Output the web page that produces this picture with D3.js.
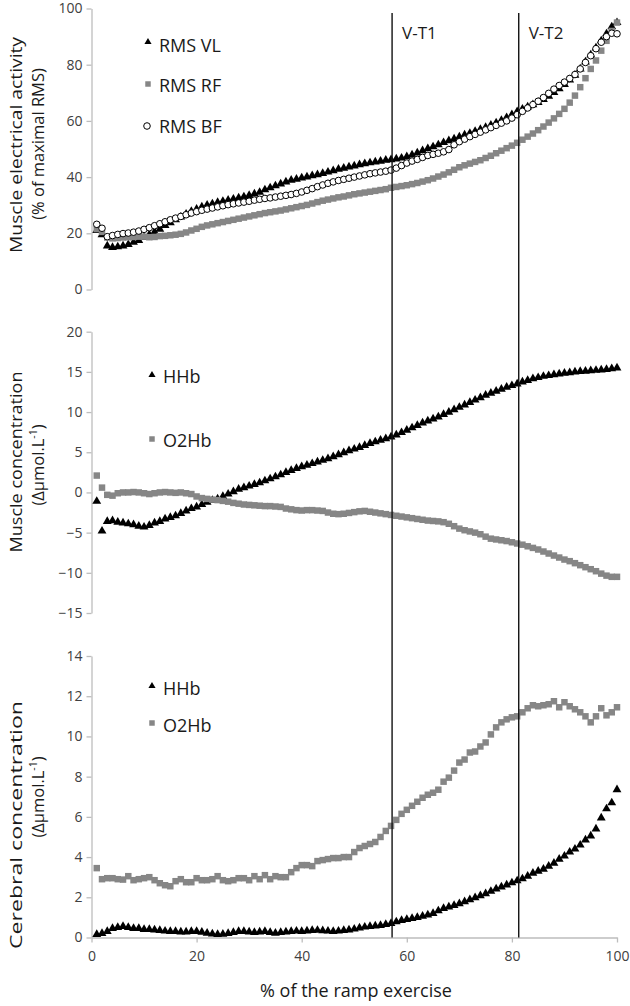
<!DOCTYPE html>
<html><head><meta charset="utf-8">
<script src="https://cdn.jsdelivr.net/npm/d3@7"></script>
<style>body{margin:0;background:#fff} text{font-family:"Open Sans",sans-serif}</style>
</head><body><svg id="c" width="630" height="1006"></svg>
<script>
// ---------- data ----------
const pct = d3.range(1, 101); // % of the ramp exercise, 1..100

const rmsVL = [21,19.5,15.5,15,15.2,15.5,16,16.8,17.5,18.5,
  19.5,20.5,21.5,22.8,23.8,24.8,25.8,26.8,27.8,28.6,
  29.4,30,30.5,31,31.4,31.8,32.2,32.6,33,33.5,
  34,34.6,35.5,36.2,36.9,37.6,38.3,38.9,39.3,39.7,
  40.1,40.5,40.9,41.3,41.8,42.3,42.8,43.2,43.6,44,
  44.4,44.8,45.1,45.4,45.7,46,46.2,46.5,46.8,47.3,
  47.9,48.6,49.4,50.1,50.8,51.5,52.3,53,53.6,54.3,
  55,55.6,56.3,57,57.7,58.5,59.3,60.2,61.2,62.2,
  63.3,64.2,65,65.8,66.6,67.6,68.8,70.1,71.5,73,
  74.6,76.3,78.5,81,83.5,86,88.5,91,93.5,95];

const rmsRF = [21.5,20.5,18.5,18.2,18.3,18.5,18.6,18.7,18.8,18.8,
  18.6,18.7,19,19.1,19.3,19.5,19.8,20.3,21,21.6,
  22.3,22.8,23.2,23.6,24,24.4,24.8,25.2,25.6,26,
  26.4,26.8,27.2,27.5,27.8,28.1,28.5,28.9,29.3,29.7,
  30.1,30.6,31.1,31.6,32,32.4,32.8,33.1,33.5,33.9,
  34.2,34.5,34.8,35.1,35.4,35.7,36.2,36.5,36.8,37.1,
  37.5,37.9,38.4,38.9,39.5,40.2,40.9,41.7,42.6,43.5,
  44.2,44.8,45.4,46,46.8,47.6,48.5,49.4,50.3,51.2,
  52.2,53.3,54.4,55.5,56.7,58,59.4,60.9,62.5,64.3,
  66.5,69,72,75.2,78.5,81.5,85,88.5,92,95];

const rmsBF = [23.2,21.8,18.8,19.2,19.6,19.9,20.1,20.4,20.8,21.4,
  22,22.7,23.4,24.1,24.8,25.4,26,26.6,27.2,27.7,
  28.2,28.6,29,29.4,29.8,30.2,30.5,30.8,31.1,31.4,
  31.8,32.1,32.4,32.6,32.9,33.2,33.5,33.8,34.2,34.7,
  35.3,35.9,36.6,37.2,37.8,38.3,38.8,39.2,39.6,40,
  40.4,40.8,41.2,41.5,41.8,42.1,42.5,43.2,44.1,45,
  45.7,46.3,47,47.7,48.1,48.5,49,49.8,51.5,52.6,
  53.5,54.4,55.2,56,56.8,57.6,58.4,59.2,60,61,
  62.2,63.4,64.6,65.8,67,68.3,69.8,71.3,72.6,73.8,
  75.1,76.5,78.5,80.8,83.2,85.7,88,90,91.2,91];

const muscleHHb = [-1.1,-4.8,-3.6,-3.5,-3.7,-3.8,-3.9,-4.0,-4.2,-4.3,
  -4.1,-3.8,-3.6,-3.3,-3.1,-2.9,-2.6,-2.3,-2.0,-1.8,
  -1.5,-1.2,-1.0,-0.8,-0.5,-0.2,0.1,0.4,0.6,0.8,
  1.0,1.2,1.45,1.7,1.95,2.2,2.5,2.75,3.0,3.2,
  3.4,3.6,3.8,4.0,4.2,4.45,4.7,4.95,5.2,5.4,
  5.6,5.85,6.1,6.3,6.5,6.7,6.9,7.15,7.45,7.75,
  8.05,8.35,8.65,8.9,9.15,9.4,9.7,10.0,10.3,10.6,
  10.9,11.2,11.5,11.8,12.1,12.35,12.6,12.85,13.1,13.3,
  13.5,13.75,13.95,14.15,14.3,14.45,14.55,14.65,14.75,14.85,
  14.9,15.0,15.05,15.1,15.15,15.2,15.25,15.3,15.4,15.5];

const muscleO2Hb = [2.1,0.6,-0.3,-0.4,-0.1,0.0,0.0,0.05,0.0,-0.1,
  -0.2,-0.1,0.0,0.05,0.0,-0.05,0.0,-0.1,-0.2,-0.5,
  -0.7,-0.8,-0.9,-0.95,-1.05,-1.15,-1.3,-1.4,-1.5,-1.55,
  -1.6,-1.65,-1.7,-1.7,-1.75,-1.8,-2.0,-2.1,-2.2,-2.25,
  -2.2,-2.2,-2.25,-2.3,-2.5,-2.65,-2.7,-2.65,-2.55,-2.45,
  -2.35,-2.3,-2.4,-2.5,-2.6,-2.7,-2.8,-2.9,-3.0,-3.1,
  -3.2,-3.3,-3.4,-3.5,-3.55,-3.6,-3.7,-3.9,-4.2,-4.5,
  -4.7,-4.85,-5.0,-5.2,-5.5,-5.75,-5.85,-5.95,-6.05,-6.2,
  -6.35,-6.5,-6.7,-6.9,-7.1,-7.35,-7.6,-7.85,-8.1,-8.35,
  -8.55,-8.8,-9.05,-9.3,-9.55,-9.8,-10.1,-10.35,-10.5,-10.5];

const cerebralHHb = [0.15,0.2,0.3,0.45,0.5,0.55,0.5,0.45,0.45,0.4,
  0.4,0.38,0.35,0.32,0.3,0.3,0.28,0.28,0.3,0.3,
  0.27,0.22,0.18,0.15,0.17,0.2,0.25,0.3,0.3,0.28,
  0.25,0.28,0.3,0.25,0.22,0.25,0.28,0.3,0.32,0.3,
  0.33,0.35,0.36,0.34,0.32,0.3,0.32,0.35,0.38,0.42,
  0.48,0.52,0.55,0.58,0.6,0.65,0.7,0.78,0.85,0.9,
  0.95,1.0,1.06,1.12,1.2,1.33,1.45,1.52,1.6,1.68,
  1.78,1.88,1.98,2.08,2.18,2.3,2.42,2.52,2.62,2.72,
  2.82,2.92,3.05,3.2,3.3,3.4,3.55,3.7,3.9,4.05,
  4.25,4.4,4.6,4.85,5.05,5.4,5.95,6.4,6.7,7.35];

const cerebralO2Hb = [3.45,2.9,2.95,2.95,2.9,2.88,3.05,2.85,2.9,2.95,
  3.0,2.85,2.7,2.6,2.55,2.8,2.9,2.75,2.75,2.95,
  2.85,2.85,2.9,3.05,2.85,2.8,2.85,2.95,2.95,2.85,
  3.05,2.9,3.1,2.9,3.05,3.0,3.0,3.25,3.45,3.6,
  3.6,3.55,3.8,3.85,3.9,3.95,3.95,4.0,4.0,4.25,
  4.45,4.55,4.65,4.75,5.0,5.3,5.55,5.85,6.15,6.35,
  6.55,6.75,6.95,7.1,7.2,7.35,7.75,7.95,8.3,8.7,
  8.85,9.2,9.25,9.5,9.7,10.1,10.45,10.7,10.85,10.95,
  11.0,11.2,11.4,11.55,11.5,11.55,11.6,11.75,11.45,11.7,
  11.5,11.35,11.2,11.0,10.7,11.0,11.4,11.05,11.2,11.45];

const xTicks = [0, 20, 40, 60, 80, 100];
const topTicks = [0, 20, 40, 60, 80, 100];
const midTicks = [-15, -10, -5, 0, 5, 10, 15, 20];
const botTicks = [0, 2, 4, 6, 8, 10, 12, 14];
const thresholdNames = ["V-T1", "V-T2"];
const thresholdValues = [57.2, 81.3];

// ---------- drawing ----------
const svg = d3.select("#c");
const BLACK = "#000", GREY = "#868686", AXIS = "#bdbdbd", TICKTXT = "#404040", TXT = "#1a1a1a";

const x = d3.scaleLinear().domain([0, 100]).range([91.5, 617]);
const yTop = d3.scaleLinear().domain([0, 100]).range([289.5, 8.5]);
const yMid = d3.scaleLinear().domain([-15, 20]).range([613, 331.7]);
const yBot = d3.scaleLinear().domain([0, 14]).range([937.5, 656]);

function leftAxis(scale, ticks) {
  const g = svg.append("g").attr("transform", `translate(${x(0)},0)`)
    .call(d3.axisLeft(scale).tickValues(ticks).tickSize(5).tickSizeOuter(0).tickPadding(4).tickFormat(d3.format("d")));
  g.select(".domain").attr("stroke", AXIS).attr("stroke-width", 1.3);
  g.selectAll(".tick line").attr("stroke", AXIS).attr("stroke-width", 1.3);
  g.selectAll(".tick text").attr("fill", TICKTXT).style("font-size", "14px").style("font-family", '"Open Sans",sans-serif');
}
leftAxis(yTop, topTicks);
leftAxis(yMid, midTicks);
leftAxis(yBot, botTicks);

const gx = svg.append("g").attr("transform", `translate(0,${yBot(0)})`)
  .call(d3.axisBottom(x).tickValues(xTicks).tickSize(5).tickSizeOuter(0).tickPadding(9).tickFormat(d3.format("d")));
gx.select(".domain").attr("stroke", AXIS).attr("stroke-width", 1.3);
gx.selectAll(".tick line").attr("stroke", AXIS).attr("stroke-width", 1.3);
gx.selectAll(".tick text").attr("fill", TICKTXT).style("font-size", "14px").style("font-family", '"Open Sans",sans-serif');

// series markers
const tri = d3.symbol(d3.symbolTriangle, 34)();
const sq = d3.symbol(d3.symbolSquare, 42)();
function triangles(vals, y) {
  svg.append("g").selectAll("path").data(vals).join("path")
    .attr("d", tri).attr("fill", BLACK)
    .attr("transform", (d, i) => `translate(${x(pct[i])},${y(d)})`);
}
function squares(vals, y) {
  svg.append("g").selectAll("path").data(vals).join("path")
    .attr("d", sq).attr("fill", GREY)
    .attr("transform", (d, i) => `translate(${x(pct[i])},${y(d)})`);
}
function circles(vals, y) {
  svg.append("g").selectAll("circle").data(vals).join("circle")
    .attr("cx", (d, i) => x(pct[i])).attr("cy", d => y(d)).attr("r", 3.3)
    .attr("fill", "#fff").attr("stroke", BLACK).attr("stroke-width", 1);
}

triangles(rmsVL, yTop); squares(rmsRF, yTop); circles(rmsBF, yTop);
triangles(muscleHHb, yMid); squares(muscleO2Hb, yMid);
triangles(cerebralHHb, yBot); squares(cerebralO2Hb, yBot);

// threshold lines
thresholdValues.forEach((v, i) => {
  svg.append("line").attr("x1", x(v)).attr("x2", x(v)).attr("y1", 13).attr("y2", yBot(0))
    .attr("stroke", "#111").attr("stroke-width", 1.4);
  svg.append("text").attr("x", x(v) + 10).attr("y", 39).text(thresholdNames[i])
    .attr("fill", TXT).style("font-size", "17px");
});

// legends
function legend(items, lx, tx) {
  items.forEach(it => {
    const g = svg.append("g");
    if (it.type === "tri") g.append("path").attr("d", d3.symbol(d3.symbolTriangle, 22)()).attr("fill", BLACK).attr("transform", `translate(${lx},${it.my})`);
    if (it.type === "sq") g.append("path").attr("d", d3.symbol(d3.symbolSquare, 30)()).attr("fill", GREY).attr("transform", `translate(${lx},${it.my})`);
    if (it.type === "circ") g.append("circle").attr("cx", lx - 1).attr("cy", it.my).attr("r", 3.3).attr("fill", "#fff").attr("stroke", BLACK);
    g.append("text").attr("x", tx).attr("y", it.ty).text(it.label).attr("fill", TXT).style("font-size", "18px");
  });
}
legend([{type: "tri", label: "RMS VL", my: 42, ty: 52},
        {type: "sq", label: "RMS RF", my: 84, ty: 92},
        {type: "circ", label: "RMS BF", my: 126, ty: 133}], 148, 159);
legend([{type: "tri", label: "HHb", my: 375, ty: 383},
        {type: "sq", label: "O2Hb", my: 439, ty: 447}], 152, 163);
legend([{type: "tri", label: "HHb", my: 686, ty: 695},
        {type: "sq", label: "O2Hb", my: 723, ty: 732}], 152, 163);

// y titles
function yTitle(line1, cy1, len1, line2parts, cy2) {
  svg.append("text").attr("transform", `translate(22,${cy1}) rotate(-90)`).attr("text-anchor", "middle")
    .attr("fill", TXT).style("font-size", "16.5px").attr("textLength", len1).attr("lengthAdjust", "spacingAndGlyphs").text(line1);
  const t = svg.append("text").attr("transform", `translate(44,${cy2}) rotate(-90)`).attr("text-anchor", "middle")
    .attr("fill", TXT).style("font-size", "16.5px");
  line2parts.forEach(p => {
    const s = t.append("tspan").text(p.t);
    if (p.sup) s.attr("baseline-shift", "super").style("font-size", "10.5px");
  });
}
yTitle("Muscle electrical activity", 145, 216, [{t: "(% of maximal RMS)"}], 144);
yTitle("Muscle concentration", 462, 181, [{t: "(Δμmol.L"}, {t: "-1", sup: true}, {t: ")"}], 465);
yTitle("Cerebral concentration", 825, 248, [{t: "(Δμmol.L"}, {t: "-1", sup: true}, {t: ")"}], 797);

// x title
svg.append("text").attr("x", 356).attr("y", 997).attr("text-anchor", "middle")
  .attr("fill", TXT).style("font-size", "18px").text("% of the ramp exercise");
</script></body></html>
